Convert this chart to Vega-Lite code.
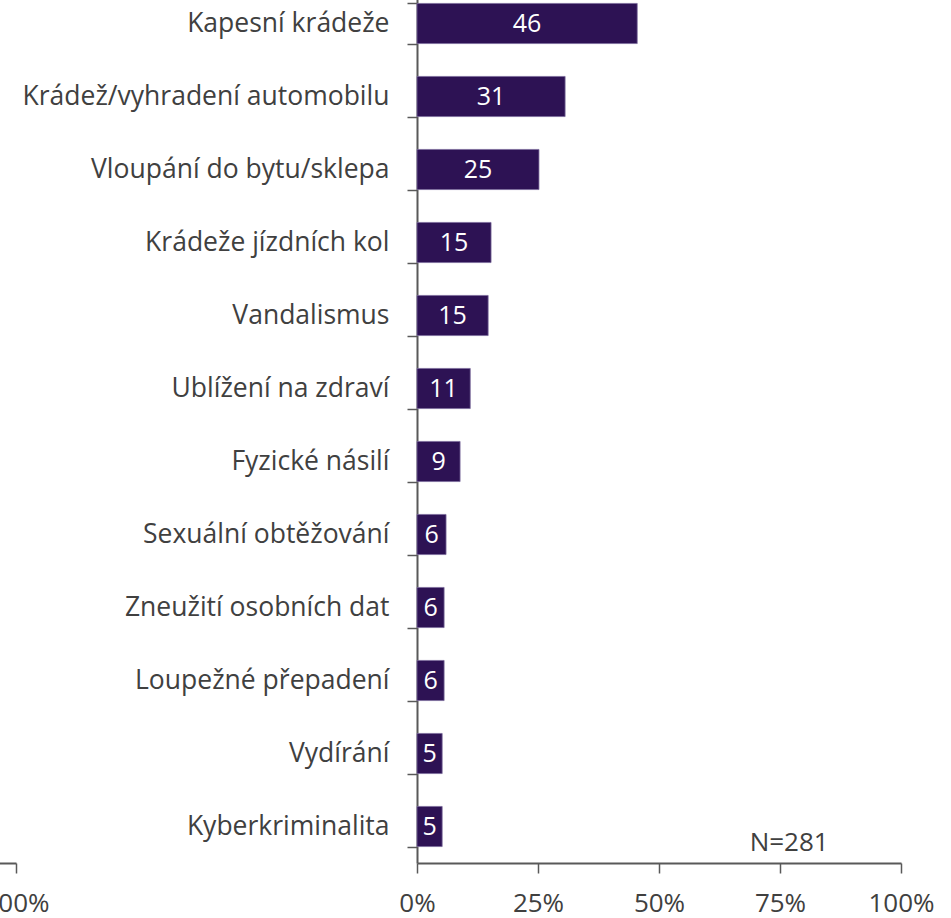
{
  "$schema": "https://vega.github.io/schema/vega-lite/v6.json",
  "autosize": {"type": "pad"},
  "padding": {"left": -184, "top": -26, "right": 10, "bottom": 5},
  "background": "white",
  "spacing": 401,
  "bounds": "flush",
  "config": {"view": {"stroke": null}, "font": "Open Sans"},
  "hconcat": [
    {
      "width": 200,
      "height": 876,
      "data": {"values": [{"v": 100}]},
      "mark": {"type": "point", "opacity": 0},
      "encoding": {
        "x": {
          "field": "v", "type": "quantitative", "title": null,
          "scale": {"domain": [0, 100], "nice": false},
          "axis": {
            "values": [100], "labelExpr": "datum.value + '%'",
            "grid": false, "tickSize": 10, "tickColor": "#595959", "tickWidth": 1.5,
            "domainColor": "#595959", "domainWidth": 2,
            "labelFontSize": 26, "labelColor": "#404040", "labelPadding": 17,
            "labelFlush": false
          }
        }
      }
    },
    {
      "width": 484,
      "height": 876,
      "data": {
        "values": [
          {"cat": "Kapesní krádeže", "value": 45.5, "label": "46"},
          {"cat": "Krádež/vyhradení automobilu", "value": 30.6, "label": "31"},
          {"cat": "Vloupání do bytu/sklepa", "value": 25.2, "label": "25"},
          {"cat": "Krádeže jízdních kol", "value": 15.3, "label": "15"},
          {"cat": "Vandalismus", "value": 14.7, "label": "15"},
          {"cat": "Ublížení na zdraví", "value": 11.0, "label": "11"},
          {"cat": "Fyzické násilí", "value": 8.9, "label": "9"},
          {"cat": "Sexuální obtěžování", "value": 6.0, "label": "6"},
          {"cat": "Zneužití osobních dat", "value": 5.6, "label": "6"},
          {"cat": "Loupežné přepadení", "value": 5.6, "label": "6"},
          {"cat": "Vydírání", "value": 5.2, "label": "5"},
          {"cat": "Kyberkriminalita", "value": 5.2, "label": "5"}
        ]
      },
      "encoding": {
        "y": {
          "field": "cat", "type": "nominal", "sort": null, "title": null,
          "scale": {"paddingInner": 0.45, "paddingOuter": 0.225},
          "axis": {
            "tickBand": "extent", "tickSize": 10, "tickColor": "#595959", "tickWidth": 1.5,
            "domainColor": "#595959", "domainWidth": 2,
            "labelFontSize": 26.5, "labelColor": "#404040", "labelPadding": 18, "labelLimit": 500
          }
        }
      },
      "layer": [
        {
          "mark": {"type": "bar", "color": "#2d1254", "stroke": "#7a6a9a", "strokeWidth": 0.8},
          "encoding": {
            "x": {
              "field": "value", "type": "quantitative", "title": null,
              "scale": {"domain": [0, 100], "nice": false},
              "axis": {
                "values": [0, 25, 50, 75, 100], "labelExpr": "datum.value + '%'",
                "grid": false, "tickSize": 10, "tickColor": "#595959", "tickWidth": 1.5,
                "domainColor": "#595959", "domainWidth": 2,
                "labelFontSize": 26, "labelColor": "#404040", "labelPadding": 17,
                "labelFlush": false
              }
            }
          }
        },
        {
          "transform": [{"calculate": "datum.value / 2", "as": "mid"}],
          "mark": {"type": "text", "color": "white", "fontSize": 25, "align": "center", "baseline": "middle"},
          "encoding": {
            "x": {"field": "mid", "type": "quantitative"},
            "text": {"field": "label"}
          }
        },
        {
          "data": {"values": [{"cat": "Kyberkriminalita", "pos": 76.9, "note": "N=281"}]},
          "mark": {"type": "text", "color": "#404040", "fontSize": 26, "align": "center", "baseline": "middle", "dy": 16},
          "encoding": {
            "x": {"field": "pos", "type": "quantitative"},
            "text": {"field": "note"}
          }
        }
      ]
    }
  ]
}
